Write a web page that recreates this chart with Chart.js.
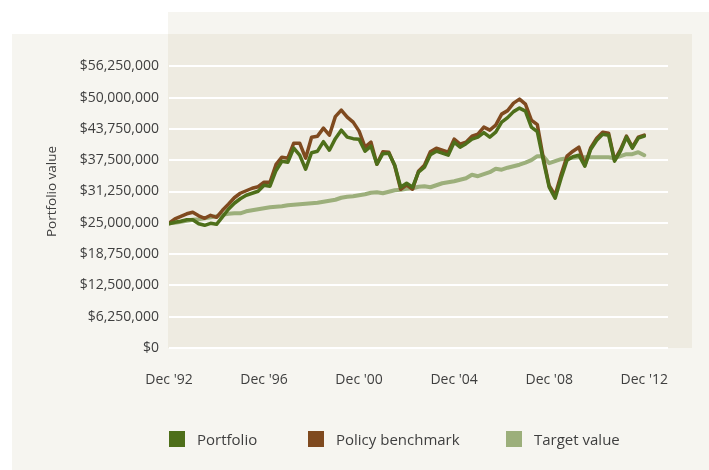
<!DOCTYPE html>
<html>
<head>
<meta charset="utf-8">
<script src="https://cdn.jsdelivr.net/npm/chart.js@4/dist/chart.umd.min.js"></script>
<style>
    html, body { margin: 0; padding: 0; background: #ffffff; }
    #wrap { position: relative; width: 709px; height: 470px; overflow: hidden; font-family: "Open Sans", sans-serif; }
    .panel { position: absolute; background: #f6f5f0; }
    #plotBg { position: absolute; left: 168px; top: 34px; width: 524px; height: 314px; background: #eeebe1; }
    #chart { position: absolute; left: 0; top: 0; }
    #legend { position: absolute; left: 0; top: 0; }
    .item { position: absolute; top: 431px; height: 16px; font-size: 15px; line-height: 16px; color: #3f3f3f; white-space: nowrap; }
    .item span.box { position: absolute; left: 0; top: 0; width: 16px; height: 16px; }
    .item span.txt { position: absolute; left: 28px; top: 0; }
</style>
</head>
<body>
<div id="wrap">
    <div class="panel" style="left:12px; top:34px; right:0; bottom:0;"></div>
    <div class="panel" style="left:168px; top:12px; right:0; height:22px;"></div>
    <div id="plotBg"></div>
    <canvas id="chart" width="709" height="470"></canvas>
    <div id="legend"></div>
</div>
<script>
// Valeurs trimestrielles (millions $), de Dec '92 à Dec '12
const portfolio = [
    24.8, 25.1, 25.3, 25.6, 25.6, 24.8, 24.5, 24.9, 24.7, 26.2,
    27.7, 28.9, 29.8, 30.5, 30.9, 31.3, 32.5, 32.3, 35.4, 37.3,
    37.1, 39.9, 38.5, 35.7, 39.0, 39.3, 41.2, 39.5, 41.8, 43.5,
    42.1, 41.8, 41.7, 39.3, 40.3, 36.7, 38.8, 38.9, 36.5, 32.1,
    32.9, 32.1, 35.1, 36.1, 38.6, 39.3, 38.9, 38.5, 41.1, 40.1,
    40.8, 41.7, 42.1, 43.0, 42.1, 43.1, 45.1, 46.0, 47.2, 47.9,
    47.3, 44.1, 43.2, 37.5, 32.1, 29.9, 33.9, 37.5, 38.2, 38.5,
    36.3, 39.7, 41.5, 42.7, 42.5, 37.3, 39.3, 42.1, 39.9, 41.9,
    42.3
];
const benchmark = [
    24.9, 25.8, 26.3, 26.8, 27.1, 26.4, 25.9, 26.5, 26.1, 27.5,
    28.7, 30.0, 30.9, 31.4, 31.9, 32.2, 33.1, 33.1, 36.6, 38.1,
    37.9, 40.9, 40.9, 37.9, 42.1, 42.3, 43.9, 42.5, 46.2, 47.5,
    46.1, 45.1, 43.3, 40.1, 41.1, 36.7, 39.2, 39.1, 36.4, 31.7,
    32.6, 31.7, 35.3, 36.5, 39.2, 39.9, 39.5, 39.1, 41.7, 40.7,
    41.1, 42.3, 42.7, 44.1, 43.5, 44.5, 46.7, 47.4, 48.9, 49.7,
    48.7, 45.5, 44.6, 38.0, 32.4, 30.5, 34.6, 38.3, 39.3, 40.1,
    36.5, 40.0, 41.9, 43.1, 42.9, 37.5, 39.6, 42.3, 40.1, 42.1,
    42.5
];
const target = [
    24.9, 25.0, 25.2, 25.4, 25.6, 25.7, 25.9, 26.1, 26.3, 26.6,
    26.8, 26.9, 26.9, 27.3, 27.5, 27.7, 27.9, 28.1, 28.2, 28.3,
    28.5, 28.6, 28.7, 28.8, 28.9, 29.0, 29.2, 29.4, 29.6, 30.0,
    30.2, 30.3, 30.5, 30.7, 31.0, 31.1, 30.9, 31.2, 31.5, 31.6,
    31.8, 31.9, 32.2, 32.3, 32.1, 32.5, 32.9, 33.1, 33.3, 33.6,
    33.9, 34.6, 34.3, 34.7, 35.1, 35.8, 35.6, 36.0, 36.3, 36.6,
    37.0, 37.5, 38.3, 38.3, 36.9, 37.3, 37.7, 37.9, 38.0, 38.1,
    38.1, 38.1, 38.1, 38.1, 38.1, 37.9, 38.3, 38.7, 38.7, 39.1,
    38.5
];
const xTickLabels = ["Dec '92", "Dec '96", "Dec '00", "Dec '04", "Dec '08", "Dec '12"];
const seriesNames = ['Portfolio', 'Policy benchmark', 'Target value'];
const seriesColors = ['#4e6f1a', '#7f4a1f', '#9caf7b'];

const textColor = '#3f3f3f';
const tickFont = { family: '"Open Sans", sans-serif', size: 14 };
const titleFont = { family: '"Open Sans", sans-serif', size: 13.5 };

function toPoints(values) {
    return values.map((v, i) => ({ x: i, y: v * 1000000 }));
}

const lineStyle = {
    pointRadius: 0,
    tension: 0,
    fill: false,
    borderJoinStyle: 'round',
    borderCapStyle: 'round'
};

new Chart(document.getElementById('chart').getContext('2d'), {
    type: 'line',
    data: {
        datasets: [
            { label: seriesNames[0], data: toPoints(portfolio), borderColor: seriesColors[0], borderWidth: 3.5, ...lineStyle },
            { label: seriesNames[1], data: toPoints(benchmark), borderColor: seriesColors[1], borderWidth: 3.5, ...lineStyle },
            { label: seriesNames[2], data: toPoints(target), borderColor: seriesColors[2], borderWidth: 4, ...lineStyle }
        ]
    },
    options: {
        responsive: false,
        animation: false,
        devicePixelRatio: 1,
        layout: { padding: { left: 44, right: 41, top: 35, bottom: 0 } },
        plugins: {
            legend: { display: false },
            tooltip: { enabled: false }
        },
        scales: {
            x: {
                type: 'linear',
                min: 0,
                max: 84,
                // un repère tous les 16 trimestres (Dec '92 ... Dec '12)
                afterBuildTicks: (axis) => {
                    axis.ticks = xTickLabels.map((label, i) => ({ value: i * 16 }));
                },
                afterFit: (scale) => { scale.height = 122; },
                grid: { display: false, drawTicks: false },
                border: { display: false },
                ticks: {
                    padding: 24,
                    maxRotation: 0,
                    autoSkip: false,
                    color: textColor,
                    font: tickFont,
                    callback: (value) => xTickLabels[Math.round(value / 16)]
                }
            },
            y: {
                min: 0,
                max: 62500000,
                afterBuildTicks: (axis) => {
                    axis.ticks = axis.ticks.filter(t => t.value < 62500000);
                },
                afterFit: (scale) => { scale.width = 125; },
                grid: { color: '#ffffff', lineWidth: 2, drawTicks: false },
                border: { display: false },
                title: {
                    display: true,
                    text: 'Portfolio value',
                    color: textColor,
                    font: titleFont,
                    padding: { top: 0, bottom: 0 }
                },
                ticks: {
                    stepSize: 6250000,
                    padding: 10,
                    autoSkip: false,
                    color: textColor,
                    font: tickFont,
                    callback: (value) => '$' + value.toLocaleString('en-US')
                }
            }
        }
    }
});

// Légende HTML
const legendX = [169, 308, 506];
document.getElementById('legend').innerHTML = seriesNames.map((name, i) => `
    <div class="item" style="left:${legendX[i]}px;">
        <span class="box" style="background:${seriesColors[i]};"></span>
        <span class="txt">${name}</span>
    </div>
`).join('');
</script>
</body>
</html>
